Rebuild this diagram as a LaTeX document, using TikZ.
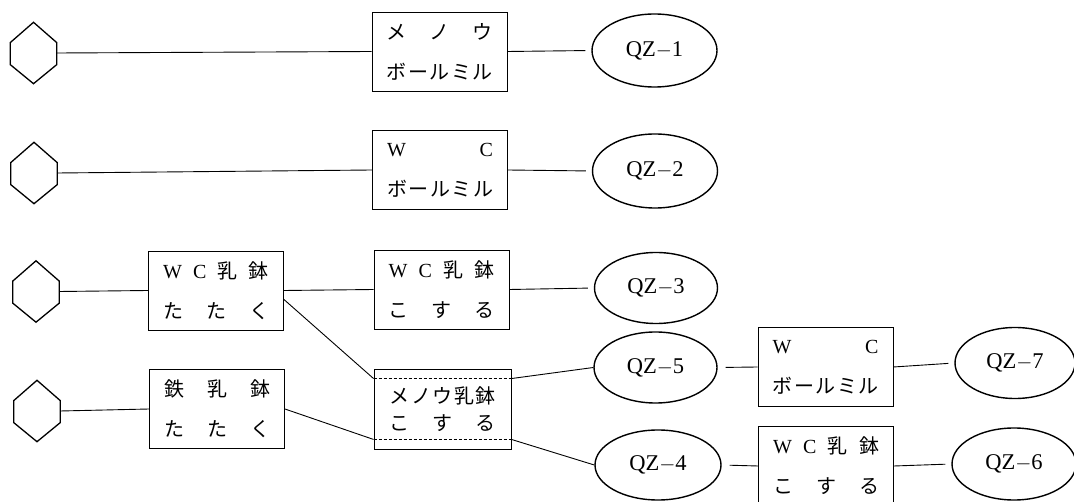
\documentclass[tikz,border=0pt]{standalone}
\usepackage{fontspec}
\setmainfont{Liberation Serif}
\newfontfamily\jp{Noto Sans CJK JP}
\usetikzlibrary{shapes.geometric,calc}
\newcommand{\J}[1]{{\jp #1}}
\newcommand{\spr}[1]{\makebox[106pt][s]{#1}}
\newcommand{\hexsrc}[1]{\draw[hexline] (#1.north) -- ($(#1.north east)!0.33!(#1.south east)$) -- ($(#1.north east)!0.69!(#1.south east)$) -- (#1.south) -- ($(#1.north west)!0.69!(#1.south west)$) -- ($(#1.north west)!0.33!(#1.south west)$) -- cycle;}
\begin{document}
\begin{tikzpicture}[x=1pt,y=-1pt,
 procbox/.style={draw, line width=0.9pt, minimum width=135pt, minimum height=79pt, inner sep=0pt, align=center, font=\fontsize{20}{40}\selectfont},
 sample/.style={draw, ellipse, line width=1.4pt, minimum width=124pt, minimum height=72pt, inner sep=0pt, font=\fontsize{22.5}{24}\selectfont},
 src/.style={minimum width=46pt, minimum height=61pt, inner sep=0pt},
 hexline/.style={line width=1.3pt, line join=miter},
 conn/.style={line width=0.9pt},
 toq/.style={conn, shorten >=6pt},
 dashline/.style={line width=0.6pt, dash pattern=on 3pt off 2pt},
 ]
\useasboundingbox (0,0) rectangle (1074,502);
\clip (0,0) rectangle (1074,502);

% sources
\node[src] (h1) at (33.5,53) {};
\node[src] (h2) at (34,173) {};
\node[src] (h3) at (36,291.5) {};
\node[src] (h4) at (37,411) {};
\hexsrc{h1}\hexsrc{h2}\hexsrc{h3}\hexsrc{h4}

% process boxes
\node[procbox] (b1) at (439.5,51.5) {\spr{\J{メ\hfill ノ\hfill ウ}}\\\spr{\J{ボ\hfill ー\hfill ル\hfill ミ\hfill ル}}};
\node[procbox] (b2) at (440,170) {\spr{W\hfill C}\\\spr{\J{ボ\hfill ー\hfill ル\hfill ミ\hfill ル}}};
\node[procbox] (b3a) at (216,290.5) {\spr{W\hfill C\hfill \J{乳}\hfill\J{鉢}}\\\spr{\J{た\hfill た\hfill く}}};
\node[procbox] (b3b) at (441.5,289.5) {\spr{W\hfill C\hfill \J{乳}\hfill\J{鉢}}\\\spr{\J{こ\hfill す\hfill る}}};
\node[procbox] (b4a) at (217,409) {\spr{\J{鉄\hfill 乳\hfill 鉢}}\\\spr{\J{た\hfill た\hfill く}}};
\node[procbox, minimum width=137pt, minimum height=80pt, font=\fontsize{20}{27}\selectfont] (m) at (442.5,409) {\spr{\J{メ\hfill ノ\hfill ウ\hfill 乳\hfill 鉢}}\\\spr{\J{こ\hfill す\hfill る}}};
\node[procbox] (b5) at (825.5,367) {\spr{W\hfill C}\\\spr{\J{ボ\hfill ー\hfill ル\hfill ミ\hfill ル}}};
\node[procbox, minimum height=80pt] (b6) at (826,466) {\spr{W\hfill C\hfill \J{乳}\hfill\J{鉢}}\\\spr{\J{こ\hfill す\hfill る}}};

\draw[dashline] ([yshift=-10pt]m.north west) coordinate (mtl) -- ([yshift=-10pt]m.north east) coordinate (mtr);
\draw[dashline] ([yshift=10pt]m.south west) coordinate (mbl) -- ([yshift=10pt]m.south east) coordinate (mbr);

% samples
\node[sample, minimum width=125pt, minimum height=73pt] (q1) at (654.5,50.5) {QZ$-$1};
\node[sample, minimum width=125pt, minimum height=74pt] (q2) at (655,171) {QZ$-$2};
\node[sample, minimum width=123pt, minimum height=71pt] (q3) at (656,288) {QZ$-$3};
\node[sample, minimum width=123pt, minimum height=71pt] (q5) at (655.5,367.5) {QZ$-$5};
\node[sample, minimum width=126pt, minimum height=70pt] (q4) at (658,465) {QZ$-$4};
\node[sample, minimum width=120pt, minimum height=71pt] (q7) at (1015,363) {QZ$-$7};
\node[sample, minimum width=124pt, minimum height=72pt] (q6) at (1014,464) {QZ$-$6};

% connectors
\draw[conn] (h1.east) -- (b1.west);
\draw[conn] (h2.east) -- (b2.west);
\draw[conn] (h3.east) -- (b3a.west);
\draw[conn] (h4.east) -- (b4a.west);
\draw[toq] (b1.east) -- (q1.west);
\draw[toq] (b2.east) -- (q2.west);
\draw[conn] (b3a.east) -- (b3b.west);
\draw[toq] (b3b.east) -- (q3.west);
\draw[conn] ([yshift=-9pt]b3a.east) -- (mtl);
\draw[conn] (b4a.east) -- (mbl);
\draw[conn] (mtr) -- (q5.west);
\draw[conn] (mbr) -- (q4.west);
\draw[conn, shorten <=8pt] (q5.east) -- (b5.west);
\draw[conn, shorten <=8pt] (q4.east) -- (b6.west);
\draw[toq] (b5.east) -- (q7.west);
\draw[toq] (b6.east) -- (q6.west);
\end{tikzpicture}
\end{document}
